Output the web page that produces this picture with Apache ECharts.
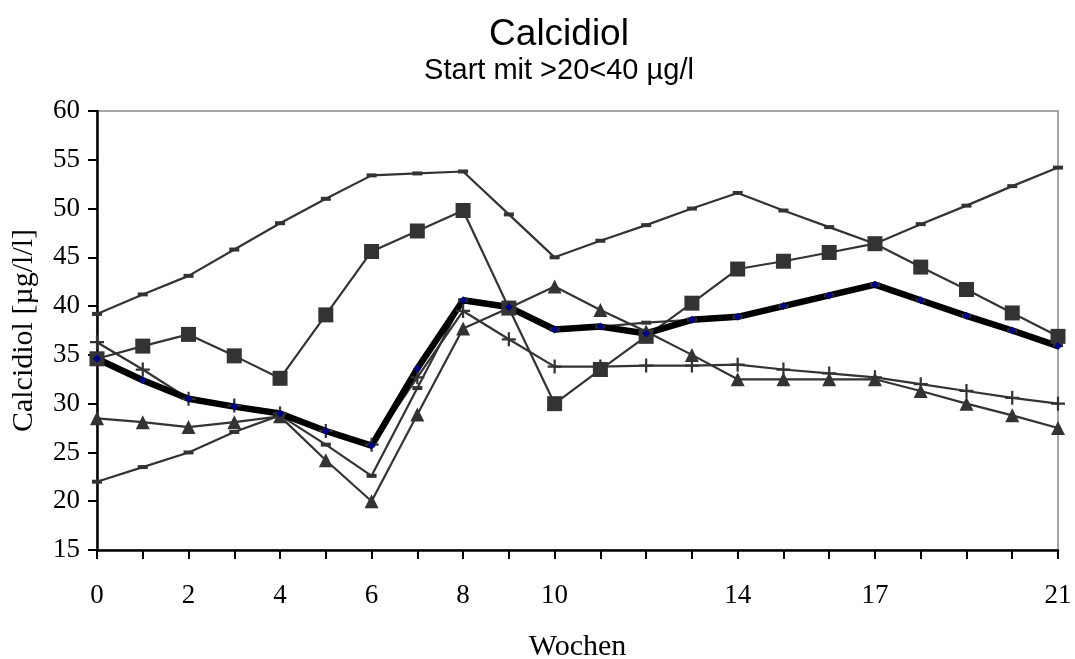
<!DOCTYPE html>
<html>
<head>
<meta charset="utf-8">
<script src="https://cdn.jsdelivr.net/npm/echarts@6/dist/echarts.min.js"></script>
<style>
  html, body { margin: 0; padding: 0; background: #fff; }
  #chart { width: 1075px; height: 659px; }
</style>
</head>
<body>
<div id="chart"></div>
<script>
// Weeks on the category axis and the ones that get a label
const weeks = ['0','1','2','3','4','5','6','7','8','9','10','11','12','13','14','15','16','17','18','19','20','21'];
const labeledWeeks = ['0','2','4','6','8','10','14','17','21'];

// Calcidiol values per course (µg/l)
const courseDashHigh = [39.2, 41.2, 43.1, 45.8, 48.5, 51.0, 53.4, 53.6, 53.8, 49.4, 45.0, 46.7, 48.3, 50.0, 51.6, 49.8, 48.1, 46.4, 48.4, 50.3, 52.3, 54.2];
const courseDashLow  = [22.0, 23.5, 25.0, 27.1, 28.8, 25.8, 22.6, 31.6, 40.6, 39.9, 37.6, 37.9, 38.3, 38.6, 38.9, 40.0, 41.1, 42.2, 40.6, 39.0, 37.5, 36.0];
const coursePlus     = [36.3, 33.5, 30.5, 29.8, 29.0, 27.2, 25.8, 32.7, 39.5, 36.6, 33.8, 33.8, 33.9, 33.9, 34.0, 33.5, 33.1, 32.7, 32.0, 31.3, 30.6, 30.0];
const courseTriangle = [28.5, 28.1, 27.6, 28.1, 28.7, 24.2, 20.0, 28.9, 37.7, 39.8, 42.0, 39.6, 37.4, 35.0, 32.5, 32.5, 32.5, 32.5, 31.3, 30.0, 28.8, 27.5];
const courseSquare   = [34.6, 35.9, 37.1, 34.9, 32.6, 39.1, 45.6, 47.7, 49.8, 39.8, 30.0, 33.5, 36.9, 40.3, 43.8, 44.6, 45.5, 46.4, 44.0, 41.7, 39.3, 36.9];
const courseBold     = [34.6, 32.4, 30.5, 29.7, 29.0, 27.2, 25.7, 33.6, 40.6, 39.9, 37.6, 37.9, 37.2, 38.6, 38.9, 40.0, 41.1, 42.2, 40.6, 39.0, 37.5, 35.9];

const plusSymbol = 'path://M4.2,0h1.6v10h-1.6zM0,4.2h10v1.6h-10z';

const courses = [
  { name: 'Verlauf 1', data: courseDashHigh, symbol: 'rect', size: [10, 4], width: 2.2, line: '#333', mark: '#333' },
  { name: 'Verlauf 2', data: courseDashLow, symbol: 'rect', size: [10, 4], width: 2.2, line: '#333', mark: '#333' },
  { name: 'Verlauf 3', data: coursePlus, symbol: plusSymbol, size: 14, width: 2.2, line: '#333', mark: '#333' },
  { name: 'Verlauf 4', data: courseTriangle, symbol: 'triangle', size: 14, width: 2.2, line: '#333', mark: '#333' },
  { name: 'Verlauf 5', data: courseSquare, symbol: 'rect', size: 15, width: 2.2, line: '#333', mark: '#333' },
  { name: 'Verlauf 6', data: courseBold, symbol: 'diamond', size: 8, width: 6.5, line: '#000', mark: '#000080' }
];

// All lines first, then all markers on top of them
const lineSeries = courses.map(c => ({
  name: c.name,
  type: 'line',
  data: c.data,
  symbol: 'none',
  z: 2,
  lineStyle: { color: c.line, width: c.width },
  itemStyle: { color: c.line }
}));
const markerSeries = courses.map(c => ({
  name: c.name,
  type: 'line',
  data: c.data,
  symbol: c.symbol,
  symbolSize: c.size,
  showSymbol: true,
  z: 3,
  lineStyle: { opacity: 0, width: 0 },
  itemStyle: { color: c.mark, borderWidth: 0 }
}));

const serif = 'Liberation Serif';
const sans = 'Liberation Sans';

const chart = echarts.init(document.getElementById('chart'), null, { renderer: 'canvas' });
chart.setOption({
  animation: false,
  backgroundColor: '#fff',
  title: [
    { text: 'Calcidiol', left: 554, top: 11, textAlign: 'center',
      textStyle: { fontFamily: sans, fontSize: 37, fontWeight: 'normal', color: '#000' } },
    { text: 'Start mit >20<40 µg/l', left: 554, top: 51, textAlign: 'center',
      textStyle: { fontFamily: sans, fontSize: 29, fontWeight: 'normal', color: '#000' } }
  ],
  grid: {
    left: 97, right: 17, top: 111, bottom: 109,
    outerBoundsMode: 'none',
    show: true, borderColor: '#888', borderWidth: 1.5, backgroundColor: '#fff'
  },
  xAxis: {
    type: 'category',
    data: weeks,
    boundaryGap: false,
    name: 'Wochen',
    nameLocation: 'middle',
    nameGap: 82,
    nameTextStyle: { fontFamily: serif, fontSize: 30, color: '#000' },
    axisLine: { lineStyle: { color: '#000', width: 2.5 } },
    axisTick: { show: true, interval: 0, length: 9, lineStyle: { color: '#000', width: 2 } },
    axisLabel: {
      interval: (i, v) => labeledWeeks.includes(v),
      margin: 32,
      fontFamily: serif, fontSize: 27, color: '#000'
    },
    splitLine: { show: false }
  },
  yAxis: {
    type: 'value',
    min: 15, max: 60, interval: 5,
    name: 'Calcidiol [µg/l/l]',
    nameLocation: 'middle',
    nameGap: 58,
    nameRotate: 90,
    nameTextStyle: { fontFamily: serif, fontSize: 30, color: '#000' },
    axisLine: { show: true, lineStyle: { color: '#000', width: 2.5 } },
    axisTick: { show: true, length: 9, lineStyle: { color: '#000', width: 2 } },
    axisLabel: { margin: 17, fontFamily: serif, fontSize: 27, color: '#000' },
    splitLine: { show: false }
  },
  series: lineSeries.concat(markerSeries)
});
</script>
</body>
</html>
